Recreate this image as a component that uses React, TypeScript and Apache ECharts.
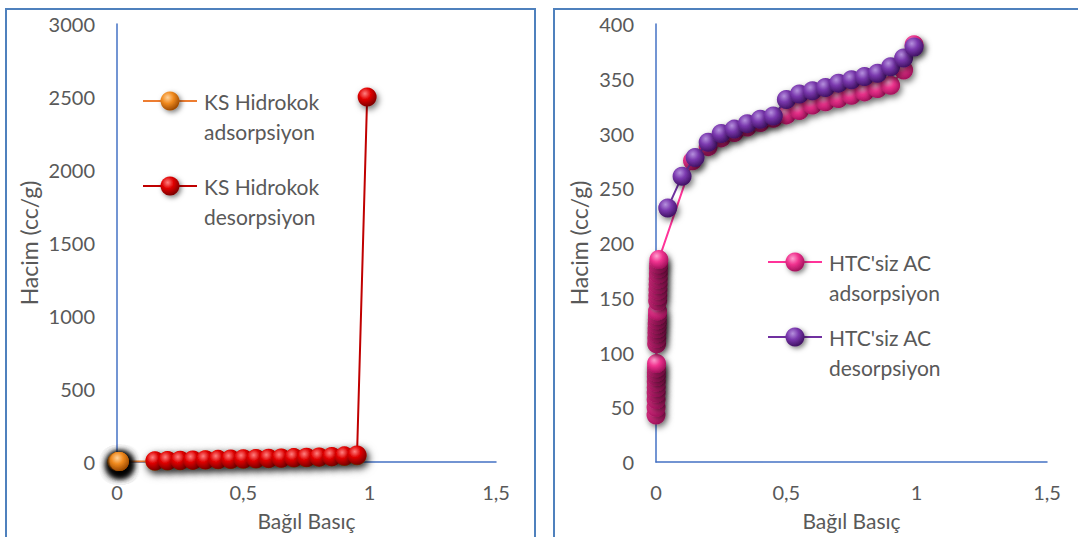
import React, { useEffect, useRef } from "react";
import * as echarts from "echarts";

// ---- Data (left: KS Hidrokok) ----
const ksAdsX = [0.0001, 0.0002, 0.0003, 0.0005, 0.0007, 0.001, 0.0015, 0.002, 0.003, 0.004, 0.005, 0.006, 0.007, 0.008, 0.009, 0.01, 0.15, 0.2, 0.25, 0.3, 0.35, 0.4, 0.45, 0.5, 0.55, 0.6, 0.65, 0.7, 0.75, 0.8, 0.85, 0.9, 0.95];
const ksAdsY = [0.2, 0.4, 0.6, 0.8, 1, 1.2, 1.5, 1.8, 2, 2.3, 2.6, 2.9, 3.2, 3.5, 3.8, 4, 5, 7, 9, 11, 13, 15, 17, 19, 21, 23, 25, 27, 29, 32, 35, 38, 43];
const ksDesX = [0.15, 0.2, 0.25, 0.3, 0.35, 0.4, 0.45, 0.5, 0.55, 0.6, 0.65, 0.7, 0.75, 0.8, 0.85, 0.9, 0.95, 0.99];
const ksDesY = [8, 10, 12, 14, 16, 18, 20, 22, 24, 26, 28, 30, 32, 35, 38, 42, 48, 2500];

// ---- Data (right: HTC'siz AC) ----
const htcAdsX = [0.0001, 0.0003, 0.0005, 0.0007, 0.0009, 0.0011, 0.0013, 0.0015, 0.0017, 0.002, 0.0025, 0.003, 0.0035, 0.004, 0.0045, 0.005, 0.0055, 0.006, 0.0065, 0.007, 0.0075, 0.008, 0.0085, 0.009, 0.0095, 0.01, 0.011, 0.14, 0.2, 0.25, 0.3, 0.35, 0.4, 0.45, 0.5, 0.55, 0.6, 0.65, 0.7, 0.75, 0.8, 0.85, 0.9, 0.95, 0.99];
const htcAdsY = [43, 50, 57, 63, 68, 73, 78, 82, 86, 90, 108, 113, 118, 122, 126, 130, 134, 138, 147, 152, 157, 162, 167, 172, 177, 181, 185, 275, 288, 296, 301, 306, 310, 314, 317, 321, 326, 329, 332, 335, 338, 341, 344, 358, 381];
const htcDesX = [0.045, 0.1, 0.15, 0.2, 0.25, 0.3, 0.35, 0.4, 0.45, 0.5, 0.55, 0.6, 0.65, 0.7, 0.75, 0.8, 0.85, 0.9, 0.95, 0.99];
const htcDesY = [232, 261, 278, 292, 300, 304, 309, 313, 316, 331, 336, 339, 342, 346, 349, 352, 355, 361, 369, 379];

const xTicks = [0, 0.5, 1, 1.5];
const leftYMax = 3000;
const leftYStep = 500;
const rightYMax = 400;
const rightYStep = 50;

const names = {
  ksAds: "KS Hidrokok\nadsorpsiyon",
  ksDes: "KS Hidrokok\ndesorpsiyon",
  htcAds: "HTC'siz AC\nadsorpsiyon",
  htcDes: "HTC'siz AC\ndesorpsiyon",
};

const FONT = "Lato";
const TXT = "#595959";
const AXIS = "#4472C4";

function ball(light: string, mid: string, dark: string) {
  return new echarts.graphic.RadialGradient(0.38, 0.32, 0.7, [
    { offset: 0, color: light },
    { offset: 0.45, color: mid },
    { offset: 1, color: dark },
  ]);
}

const styles = {
  orange: { line: "#ED7D31", fill: () => ball("#FFD29A", "#F08A1E", "#9A4800") },
  red: { line: "#C00000", fill: () => ball("#FF8080", "#E00000", "#7A0000") },
  pink: { line: "#FF3399", fill: () => ball("#FF9FD0", "#F0338F", "#A0105A") },
  purple: { line: "#7030A0", fill: () => ball("#B590DD", "#7A38AE", "#3E1060") },
};

function zip(xs: number[], ys: number[]) {
  return xs.map((x, i) => [x, ys[i]]);
}

function series(name: string, xs: number[], ys: number[], st: any, idx: number, z: number, blur = 6) {
  return {
    type: "line",
    name,
    xAxisIndex: idx,
    yAxisIndex: idx,
    data: zip(xs, ys),
    symbol: "circle",
    symbolSize: 19,
    z,
    lineStyle: { color: st.line, width: 2 },
    itemStyle: {
      color: st.fill(),
      borderWidth: 0,
      shadowBlur: blur,
      shadowColor: "rgba(0,0,0,0.55)",
      shadowOffsetX: 2,
      shadowOffsetY: 3,
    },
  };
}

function legendItem(cx: number, cy: number, st: any, text: string) {
  return [
    { type: "line", shape: { x1: cx - 27, y1: cy, x2: cx + 27, y2: cy }, style: { stroke: st.line, lineWidth: 2 }, z: 10 },
    {
      type: "circle",
      shape: { cx, cy, r: 9.5 },
      style: { fill: st.fill(), shadowBlur: 5, shadowColor: "rgba(0,0,0,0.5)", shadowOffsetX: 2, shadowOffsetY: 2 },
      z: 11,
    },
    {
      type: "text",
      x: cx + 34,
      y: cy - 15,
      style: { text, fill: TXT, font: `21px ${FONT}`, lineHeight: 30, verticalAlign: "top" },
      z: 11,
    },
  ];
}

function fmt(v: number) {
  return String(v).replace(".", ",");
}

export default function App() {
  const ref = useRef<HTMLDivElement>(null);
  useEffect(() => {
    if (!ref.current) return;
    const chart = echarts.init(ref.current, null, { renderer: "svg" });
    const axisLabel = { color: TXT, fontSize: 20, fontFamily: FONT, margin: 20 };
    const nameStyle = { color: TXT, fontSize: 21, fontFamily: FONT };
    const xAxisCommon = {
      type: "value",
      min: 0,
      max: xTicks[xTicks.length - 1],
      interval: xTicks[1] - xTicks[0],
      name: "Bağıl Basıç",
      nameLocation: "middle",
      nameGap: 48,
      nameTextStyle: nameStyle,
      axisLine: { show: true, lineStyle: { color: AXIS, width: 1.5 } },
      axisTick: { show: false },
      splitLine: { show: false },
      axisLabel: { ...axisLabel, formatter: (v: number) => fmt(v) },
    };
    const yAxisCommon = {
      type: "value",
      min: 0,
      name: "Hacim (cc/g)",
      nameLocation: "middle",
      nameTextStyle: { ...nameStyle, fontSize: 23 },
      axisLine: { show: true, lineStyle: { color: AXIS, width: 1.5 } },
      axisTick: { show: false },
      splitLine: { show: false },
      axisLabel: { ...axisLabel, margin: 22, formatter: (v: number) => fmt(v) },
    };
    chart.setOption({
      animation: false,
      backgroundColor: "#fff",
      grid: [
        { left: 117, top: 24, width: 379, height: 438 },
        { left: 656, top: 24, width: 391, height: 438 },
      ],
      xAxis: [
        { ...xAxisCommon, gridIndex: 0 },
        { ...xAxisCommon, gridIndex: 1 },
      ],
      yAxis: [
        { ...yAxisCommon, gridIndex: 0, max: leftYMax, interval: leftYStep, nameGap: 77 },
        { ...yAxisCommon, gridIndex: 1, max: rightYMax, interval: rightYStep, nameGap: 66 },
      ],
      series: [
        series(names.ksAds, ksAdsX, ksAdsY, styles.orange, 0, 2, 10),
        series(names.ksDes, ksDesX, ksDesY, styles.red, 0, 3),
        series(names.htcAds, htcAdsX, htcAdsY, styles.pink, 1, 2),
        series(names.htcDes, htcDesX, htcDesY, styles.purple, 1, 3),
      ],
      graphic: [
        { type: "rect", shape: { x: 6, y: 9, width: 529, height: 545 }, style: { fill: "none", stroke: "#4F81BD", lineWidth: 2 }, z: -1 },
        { type: "rect", shape: { x: 554, y: 9, width: 545, height: 545 }, style: { fill: "none", stroke: "#4F81BD", lineWidth: 2 }, z: -1 },
        ...legendItem(170, 101, styles.orange, names.ksAds),
        ...legendItem(170, 186, styles.red, names.ksDes),
        ...legendItem(795, 262, styles.pink, names.htcAds),
        ...legendItem(795, 337, styles.purple, names.htcDes),
      ],
    });
    return () => chart.dispose();
  }, []);
  return <div ref={ref} style={{ position: "fixed", left: 0, top: 0, width: 1078, height: 537 }} />;
}
